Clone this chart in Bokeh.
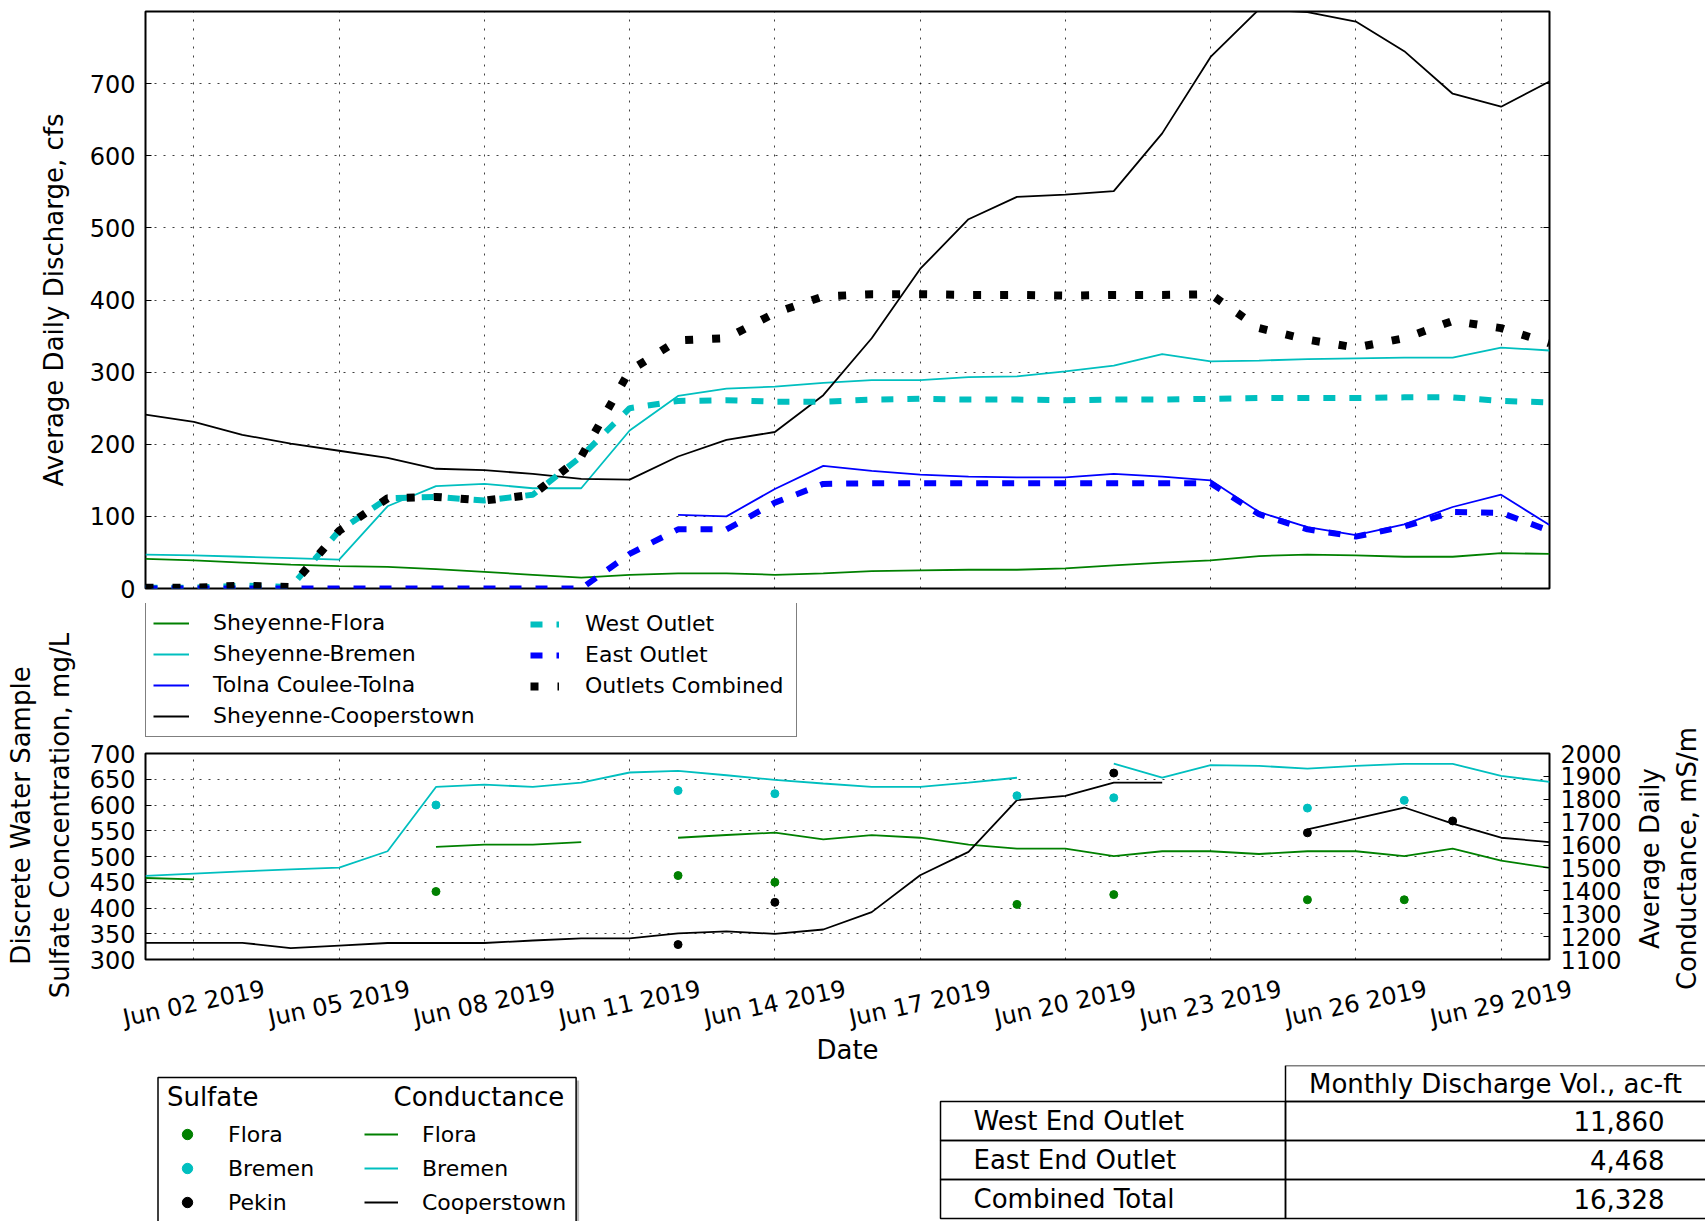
from datetime import datetime
from bokeh.plotting import figure
from bokeh.models import Range1d, LinearAxis, FixedTicker, Legend, LegendItem
from bokeh.layouts import column, row
from bokeh.embed import file_html
from bokeh.resources import INLINE
from bokeh.core.properties import value

FONT = "DejaVu Sans"
nan = float("nan")

# ---------------- data ----------------
days = [datetime(2019, 6, d) for d in range(1, 31)]
tick_days = [datetime(2019, 6, d) for d in (2, 5, 8, 11, 14, 17, 20, 23, 26, 29)]
tick_labels = [d.strftime("%b %d %Y") for d in tick_days]      # "Jun 02 2019", ...
discharge_ticks = [0, 100, 200, 300, 400, 500, 600, 700]
sulfate_ticks = [300, 350, 400, 450, 500, 550, 600, 650, 700]
cond_ticks = [1100, 1200, 1300, 1400, 1500, 1600, 1700, 1800, 1900, 2000]

# average daily discharge, cfs (Jun 1 .. Jun 30)
q_flora = [41, 39, 36, 33, 31, 30, 27, 23, 19, 15, 19, 21, 21, 19, 21,
           24, 25, 26, 26, 28, 32, 36, 39, 45, 47, 46, 44, 44, 49, 48]
q_bremen = [47, 46, 44, 42, 40, 114, 142, 145, 139, 139, 219, 267, 277, 280, 285,
            289, 289, 293, 294, 301, 309, 325, 315, 316, 318, 319, 320, 320, 334, 330]
q_tolna = [nan, nan, nan, nan, nan, nan, nan, nan, nan, nan, nan, 102, 100, 138, 170,
           163, 158, 155, 154, 154, 159, 155, 150, 106, 85, 74, 89, 113, 130, 88]
q_cooperstown = [241, 231, 213, 201, 191, 181, 166, 164, 159, 152, 151, 183, 206, 217, 268,
                 347, 443, 512, 543, 546, 551, 631, 737, 803, 799, 786, 745, 686, 668, 703]
q_west = [1, 1, 4, 2, 80, 125, 127, 122, 130, 183, 250, 260, 261, 259, 259,
          262, 263, 262, 262, 261, 262, 262, 263, 264, 264, 264, 265, 265, 260, 258]
q_east = [0, 0, 0, 0, 0, 0, 0, 0, 0, 0, 48, 82, 82, 119, 145,
          146, 146, 146, 146, 146, 146, 146, 146, 103, 82, 72, 86, 106, 105, 80]
q_combined = [1, 1, 4, 2, 80, 125, 127, 122, 130, 183, 302, 344, 347, 382, 405,
              408, 408, 407, 407, 406, 407, 407, 408, 361, 345, 334, 347, 371, 361, 340]

# average daily conductance, mS/m (Jun 1 .. Jun 30)
c_flora = [1456, 1450, nan, nan, nan, nan, 1592, 1602, 1602, 1613, nan, 1632, 1644, 1654, 1625,
           1643, 1632, 1602, 1584, 1584, 1552, 1573, 1573, 1561, 1573, 1573, 1552, 1584, 1532, 1500]
c_bremen = [1465, 1475, 1485, 1494, 1501, 1573, 1854, 1864, 1854, 1873, 1917, 1924, 1905, 1885, 1869,
            1854, 1854, 1873, 1894, nan, 1956, 1895, 1949, 1946, 1934, 1946, 1955, 1955, 1902, 1876]
c_cooperstown = [1173, 1173, 1173, 1150, 1161, 1172, 1172, 1172, 1183, 1192, 1192, 1214, 1223, 1212, 1231,
                 1307, 1468, 1570, 1796, 1815, 1873, 1873, nan, nan, 1669, 1716, 1764, 1694, 1632, 1613]

# discrete sulfate samples, mg/L
so4_flora_days = [7, 12, 14, 19, 21, 25, 27]
so4_flora = [432, 463, 450, 407, 426, 416, 416]
so4_bremen_days = [7, 12, 14, 19, 21, 25, 27]
so4_bremen = [600, 628, 622, 618, 614, 594, 609]
so4_pekin_days = [12, 14, 21, 25, 28]
so4_pekin = [329, 411, 662, 546, 569]

table_header = "Monthly Discharge Vol., ac-ft"
table_rows = ["West End Outlet", "East End Outlet", "Combined Total"]
table_values = ["11,860", "4,468", "16,328"]

GREEN = "#008000"
CYAN = "#00BFBF"
BLUE = "#0000FF"
BLACK = "#000000"
LW = 1.8


def ms(d):
    return (d - datetime(1970, 1, 1)).total_seconds() * 1000.0


tick_ms = [ms(d) for d in tick_days]
so4_flora_x = [datetime(2019, 6, d) for d in so4_flora_days]
so4_bremen_x = [datetime(2019, 6, d) for d in so4_bremen_days]
so4_pekin_x = [datetime(2019, 6, d) for d in so4_pekin_days]


def style_axis(ax):
    ax.axis_line_color = None
    ax.major_tick_in = 6
    ax.major_tick_out = 0
    ax.minor_tick_in = 0
    ax.minor_tick_out = 0
    ax.major_tick_line_color = "black"
    ax.major_tick_line_width = 1.2
    ax.major_label_text_font = FONT
    ax.major_label_text_font_size = "24px"
    ax.major_label_text_color = "black"
    ax.axis_label_text_font = FONT
    ax.axis_label_text_font_size = "26px"
    ax.axis_label_text_font_style = "normal"
    ax.axis_label_text_color = "black"


def style_grid(p, xt, yt):
    p.xgrid[0].ticker = FixedTicker(ticks=xt)
    p.ygrid[0].ticker = FixedTicker(ticks=yt)
    for g in (p.xgrid[0], p.ygrid[0]):
        g.grid_line_color = "black"
        g.grid_line_alpha = 0.75
        g.grid_line_width = 1
        g.grid_line_dash = "2 7"


def chart_fig(w, h, yr, left, right, top, bottom):
    p = figure(width=w, height=h, x_axis_type="datetime", x_range=xr, y_range=yr,
               output_backend="svg", toolbar_location=None, title=None,
               min_border_left=left, min_border_right=right,
               min_border_top=top, min_border_bottom=bottom)
    p.frame_align = False
    p.outline_line_color = "black"
    p.outline_line_width = 2
    p.background_fill_color = "white"
    p.border_fill_color = "white"
    return p


def canvas_fig(w, h, x_range=None, x_axis_type="linear"):
    p = figure(width=w, height=h, x_range=x_range or Range1d(0, w), y_range=Range1d(0, h),
               x_axis_type=x_axis_type, output_backend="svg", toolbar_location=None,
               title=None, x_axis_location=None, y_axis_location=None,
               min_border=0, min_border_left=0, min_border_right=0,
               min_border_top=0, min_border_bottom=0)
    p.frame_align = False
    p.grid.visible = False
    p.outline_line_color = None
    p.background_fill_color = "white"
    p.border_fill_color = "white"
    return p


xr = Range1d(days[0], days[-1])
FRAME_L, FRAME_W = 145, 1404

# ---------------- top: discharge ----------------
PA_H = 603
pa = chart_fig(1705, PA_H, Range1d(0, 800), FRAME_L, 156, 11, 15)
pa.xaxis.visible = False
pa.yaxis[0].ticker = FixedTicker(ticks=discharge_ticks)
style_axis(pa.yaxis[0])
pa.yaxis[0].major_label_standoff = 10
pa.yaxis[0].axis_label = "Average Daily Discharge, cfs"
pa.yaxis[0].axis_label_standoff = 18
ra = LinearAxis(ticker=FixedTicker(ticks=discharge_ticks))
style_axis(ra)
ra.major_label_text_color = None
pa.add_layout(ra, "right")
style_grid(pa, tick_ms, discharge_ticks)

top_styles = [
    ("Sheyenne-Flora", q_flora, dict(line_color=GREEN, line_width=LW)),
    ("Sheyenne-Bremen", q_bremen, dict(line_color=CYAN, line_width=LW)),
    ("Tolna Coulee-Tolna", q_tolna, dict(line_color=BLUE, line_width=LW)),
    ("Sheyenne-Cooperstown", q_cooperstown, dict(line_color=BLACK, line_width=LW)),
    ("West Outlet", q_west, dict(line_color=CYAN, line_width=6, line_dash="12 14")),
    ("East Outlet", q_east, dict(line_color=BLUE, line_width=6, line_dash="12 14")),
    ("Outlets Combined", q_combined, dict(line_color=BLACK, line_width=8, line_dash="8 19")),
]
for name, vals, st in top_styles:
    pa.line(days, vals, **st)

# ---------------- legend strip for the discharge panel ----------------
MID_X0 = 80
LEG_W, LEG_H = 1548, 134
pleg = canvas_fig(LEG_W, LEG_H)
lx = FRAME_L - MID_X0
leg_r = []
for name, vals, st in top_styles:
    # the series themselves, outside this strip's scale: only their legend glyphs show
    leg_r.append((name, pleg.line(days, vals, **st)))
common = dict(orientation="vertical", label_text_font=FONT, label_text_font_size="22px",
              label_text_color="black", label_height=26, glyph_height=26, spacing=5,
              margin=0)
L1 = Legend(items=[LegendItem(label=nm, renderers=[r]) for nm, r in leg_r[:4]],
            location=(lx, 0.5), padding=7, glyph_width=36, label_standoff=24,
            label_width=576, border_line_color="black", border_line_width=1.5,
            background_fill_color="white", background_fill_alpha=1, **common)
L2 = Legend(items=[LegendItem(label=nm, renderers=[r]) for nm, r in leg_r[4:]],
            location=(530 - MID_X0, 38.5), padding=0, glyph_width=29, label_standoff=26,
            border_line_color=None, background_fill_alpha=0, **common)
pleg.add_layout(L1)
pleg.add_layout(L2)

# ---------------- middle: sulfate / conductance ----------------
s0, s1 = sulfate_ticks[0], sulfate_ticks[-1]
PB_H = 16 + 206 + 15
pb = chart_fig(1548, PB_H, Range1d(s0, s1), FRAME_L - MID_X0, 79, 16, 15)
pb.extra_y_ranges = {"cond": Range1d(cond_ticks[0], cond_ticks[-1])}
pb.xaxis.visible = False
pb.yaxis[0].ticker = FixedTicker(ticks=sulfate_ticks)
style_axis(pb.yaxis[0])
pb.yaxis[0].major_label_standoff = 10
rb = LinearAxis(y_range_name="cond", ticker=FixedTicker(ticks=cond_ticks))
style_axis(rb)
rb.major_label_standoff = 11
pb.add_layout(rb, "right")
style_grid(pb, tick_ms, sulfate_ticks)

pb.line(days, c_flora, line_color=GREEN, line_width=LW, y_range_name="cond")
pb.line(days, c_bremen, line_color=CYAN, line_width=LW, y_range_name="cond")
pb.line(days, c_cooperstown, line_color=BLACK, line_width=LW, y_range_name="cond")
pb.scatter(so4_flora_x, so4_flora, size=8, fill_color=GREEN, line_color=GREEN)
pb.scatter(so4_bremen_x, so4_bremen, size=8, fill_color=CYAN, line_color=CYAN)
pb.scatter(so4_pekin_x, so4_pekin, size=8, fill_color=BLACK, line_color=BLACK)

# date tick labels and x-axis title, on the same date scale as the frames above
DT_H = 91
span = days[-1] - days[0]
px = span / FRAME_W
dates_range = Range1d(days[0] - px * (FRAME_L - MID_X0),
                      days[-1] + px * (1548 - (FRAME_L - MID_X0) - FRAME_W))
pdt = canvas_fig(1548, DT_H, x_range=dates_range, x_axis_type="datetime")
pdt.text(x=tick_days, y=[DT_H - 29] * len(tick_days), text=tick_labels, angle=12,
         angle_units="deg", text_align="center", text_baseline="middle",
         text_font=value(FONT), text_font_size="24px", text_color="black")
pdt.text(x=[days[0] + span / 2], y=[16], text=["Date"], text_align="center",
         text_baseline="middle", text_font=value(FONT), text_font_size="26px",
         text_color="black")

MID_H = LEG_H + PB_H + DT_H
# y-axis titles of the middle panel
pl = canvas_fig(MID_X0, MID_H)
pl.text(x=[40], y=[250], text=["Discrete Water Sample\nSulfate Concentration, mg/L"],
        angle=90, angle_units="deg", text_align="center", text_baseline="middle",
        text_font=value(FONT), text_font_size="26px", text_line_height=1.3, text_color="black")
pr = canvas_fig(1705 - MID_X0 - 1548, MID_H)
pr.text(x=[40], y=[207], text=["Average Daily\nConductance, mS/m"],
        angle=90, angle_units="deg", text_align="center", text_baseline="middle",
        text_font=value(FONT), text_font_size="26px", text_line_height=1.25, text_color="black")

# ---------------- bottom: legend + table ----------------
W, H = 1705, 1221 - PA_H - MID_H
pc = canvas_fig(W, H)

pc.quad(left=[160.5], right=[578.6], top=[141], bottom=[-30], fill_color="#9a9a9a",
        fill_alpha=0.7, line_color=None)
pc.quad(left=[157.5], right=[575.6], top=[144], bottom=[-30], fill_color="white",
        line_color="black", line_width=1.5)
pc.text(x=[166.4], y=[124.3], text=["Sulfate"], text_font=value(FONT),
        text_font_size="26px", text_align="left", text_baseline="middle", text_color="black")
pc.text(x=[563.7], y=[124.3], text=["Conductance"], text_font=value(FONT),
        text_font_size="26px", text_align="right", text_baseline="middle", text_color="black")

# legend glyphs come from the real series, which fall outside this canvas' scale
rs = [pc.scatter(so4_flora_x, so4_flora, size=4, fill_color=GREEN, line_color=GREEN),
      pc.scatter(so4_bremen_x, so4_bremen, size=4, fill_color=CYAN, line_color=CYAN),
      pc.scatter(so4_pekin_x, so4_pekin, size=4, fill_color=BLACK, line_color=BLACK)]
rc = [pc.line(days, c_flora, line_color=GREEN, line_width=LW),
      pc.line(days, c_bremen, line_color=CYAN, line_width=LW),
      pc.line(days, c_cooperstown, line_color=BLACK, line_width=LW)]
common2 = dict(orientation="vertical", label_text_font=FONT, label_text_font_size="22px",
               label_text_color="black", label_height=26, glyph_height=26, spacing=8,
               margin=0, padding=0, border_line_color=None, background_fill_alpha=0)
pc.add_layout(Legend(items=[LegendItem(label=nm, renderers=[r])
                            for nm, r in zip(["Flora", "Bremen", "Pekin"], rs)],
                     location=(166, 6), glyph_width=42, label_standoff=20, **common2))
pc.add_layout(Legend(items=[LegendItem(label=nm, renderers=[r])
                            for nm, r in zip(["Flora", "Bremen", "Cooperstown"], rc)],
                     location=(364, 6), glyph_width=34, label_standoff=24, **common2))

# table
x_l, x_m, x_r = 940, 1285, 1712
hdr_top, hdr_bot = H, H - 36
row_h = 39
n = len(table_rows)
row_tops = [hdr_bot - i * row_h for i in range(n)]
row_bots = [t - row_h for t in row_tops]
pc.quad(left=[x_m], right=[x_r], top=[hdr_top], bottom=[hdr_bot], fill_color=None,
        line_color="black", line_width=1.5)
pc.quad(left=[x_l] * n, right=[x_m] * n, top=row_tops, bottom=row_bots, fill_color=None,
        line_color="black", line_width=1.5)
pc.quad(left=[x_m] * n, right=[x_r] * n, top=row_tops, bottom=row_bots, fill_color=None,
        line_color="black", line_width=1.5)
row_mid = [(t + b) / 2 for t, b in zip(row_tops, row_bots)]
pc.text(x=[(x_m + 1705) / 2], y=[(hdr_top + hdr_bot) / 2], text=[table_header],
        text_font=value(FONT), text_font_size="26px", text_align="center",
        text_baseline="middle", text_color="black")
pc.text(x=[x_l + 33] * n, y=row_mid, text=table_rows, text_font=value(FONT),
        text_font_size="26px", text_align="left", text_baseline="middle", text_color="black")
pc.text(x=[1664] * n, y=row_mid, text=table_values, text_font=value(FONT),
        text_font_size="26px", text_align="right", text_baseline="middle", text_color="black")

layout = column(pa, row(pl, column(pleg, pb, pdt, spacing=0), pr, spacing=0), pc, spacing=0)
open("out.html", "w").write(file_html(layout, INLINE))
